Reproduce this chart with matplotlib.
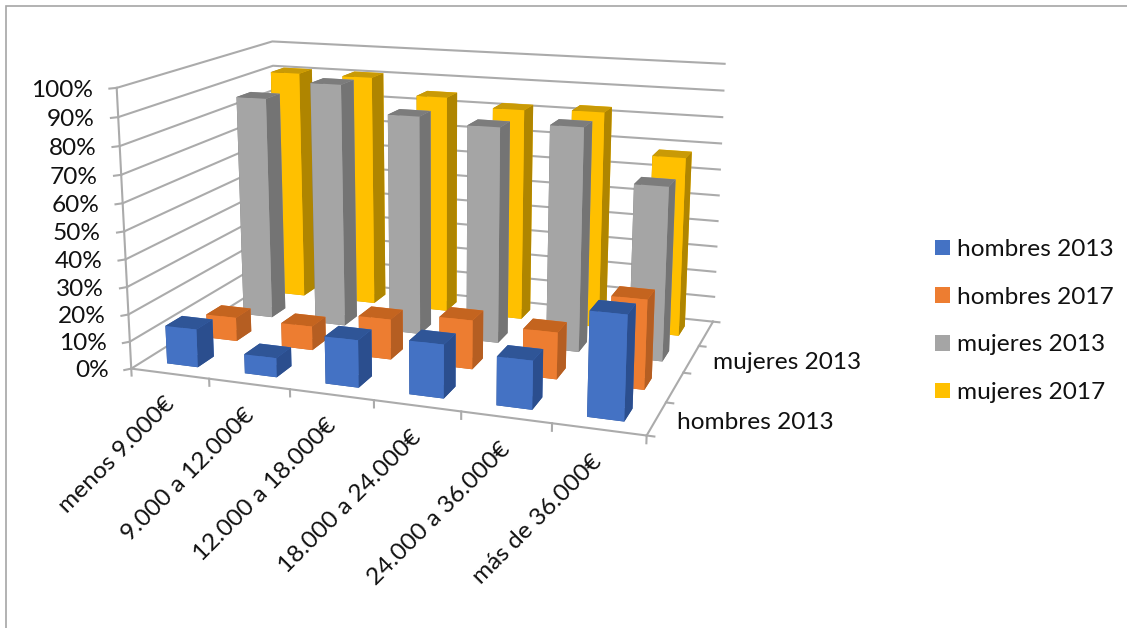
import matplotlib
matplotlib.use("Agg")
import matplotlib.pyplot as plt
from matplotlib.patches import Patch, Rectangle
from mpl_toolkits.mplot3d import proj3d

plt.rcParams["font.family"] = ["Lato", "DejaVu Sans"]

categorias = ["menos 9.000€", "9.000 a 12.000€", "12.000 a 18.000€",
              "18.000 a 24.000€", "24.000 a 36.000€", "más de 36.000€"]
series = ["hombres 2013", "hombres 2017", "mujeres 2013", "mujeres 2017"]
hombres_2013 = [14, 7, 17, 19, 17, 36]
hombres_2017 = [9, 9, 15, 18, 17, 32]
mujeres_2013 = [86, 93, 83, 81, 83, 64]
mujeres_2017 = [91, 91, 85, 82, 83, 68]
valores = [hombres_2013, hombres_2017, mujeres_2013, mujeres_2017]
pct_ticks = list(range(0, 101, 10))

# front, top, side colour per series
colores = [("#4472C4", "#2F5597", "#2B4E8E"),
           ("#ED7D31", "#C4641F", "#B55E22"),
           ("#A5A5A5", "#7C7C7C", "#747474"),
           ("#FFC000", "#C99A06", "#AF8500")]
GRID = "#ABABAB"
TXT = "#111111"
FS = 17.6

fig = plt.figure(figsize=(11.27, 6.28), dpi=100)
fig.add_artist(Rectangle((6 / 1127, -0.02), 1.1, 1.02 - 6 / 628, transform=fig.transFigure,
                         fill=False, edgecolor="#A6A6A6", linewidth=1.2))

ax = fig.add_axes([100.58 / 1127, 81.04 / 628, 651.08 / 1127, 651.08 / 628],
                  projection="3d", computed_zorder=False)
ax.set_xlim(0, 6, view_margin=0)
ax.set_ylim(0, 4, view_margin=0)
ax.set_zlim(0, 100, view_margin=0)
ax.view_init(elev=14.119, azim=-70.344, roll=0.064)
ax.set_proj_type("persp", focal_length=0.4391)
ax.set_box_aspect((1.5189, 1, 0.8249))
ax.set_axis_off()
ax.patch.set_alpha(0)

M = ax.get_proj()


# plain 2D text at a projected 3D spot (Text3D drops the rotation)
def rotulo(x, y, z, texto, **kw):
    xp, yp, _ = proj3d.proj_transform(x, y, z, M)
    ax.text2D(xp, yp, texto, transform=ax.transData, fontsize=FS, color=TXT, zorder=100, **kw)


# grid lines on the two walls, with a tick on the value axis
for p in pct_ticks:
    ax.plot([0, 0, 6], [0, 4, 4], [p, p, p], color=GRID, lw=1.5, zorder=1)
    ax.plot([-0.05, 0], [-0.07, 0], [p, p], color=GRID, lw=1.5, zorder=1)
    rotulo(-0.24, -0.1, p - 0.7, f"{p}%", ha="right", va="center")
ax.plot([0, 0], [0, 0], [0, 100], color=GRID, lw=1.5, zorder=1)

# floor edges and ticks
ax.plot([0, 6, 6], [0, 0, 4], [0, 0, 0], color=GRID, lw=1.5, zorder=1)
for i in range(7):
    ax.plot([i, i], [0, 0], [0, -2.6], color=GRID, lw=1.5, zorder=1)
for j in range(5):
    ax.plot([6, 6.08], [j, j], [0, 0], color=GRID, lw=1.5, zorder=1)

# back row first so nearer bars cover it
orden = 2
for s in range(3, -1, -1):
    frente, tapa, lado = colores[s]
    for i, v in enumerate(valores[s]):
        caras = [tapa, tapa, frente, frente, lado, lado]
        b = ax.bar3d(i + 0.3, s + 0.3, 0, 0.4, 0.4, v, color=caras, shade=False, zorder=orden)
        b.set_edgecolor("none")
        orden += 1

for i, c in enumerate(categorias):
    rotulo(0.73 + 0.965 * i, -0.55, -0.5, c, ha="right", va="top", rotation=45,
           rotation_mode="anchor")

rotulo(6.22, 0.5, -0.4, "hombres 2013", ha="left", va="center")
rotulo(6.26, 2.5, -0.4, "mujeres 2013", ha="left", va="center")

handles = [Patch(facecolor=c[0], edgecolor="none") for c in colores]
fig.legend(handles, series, loc="center left", bbox_to_anchor=(913 / 1127, 1 - 321 / 628),
           frameon=False, fontsize=FS, handlelength=0.61, handleheight=0.61,
           handletextpad=0.29, labelspacing=1.09, labelcolor=TXT)

fig.savefig("out.png", dpi=100)
